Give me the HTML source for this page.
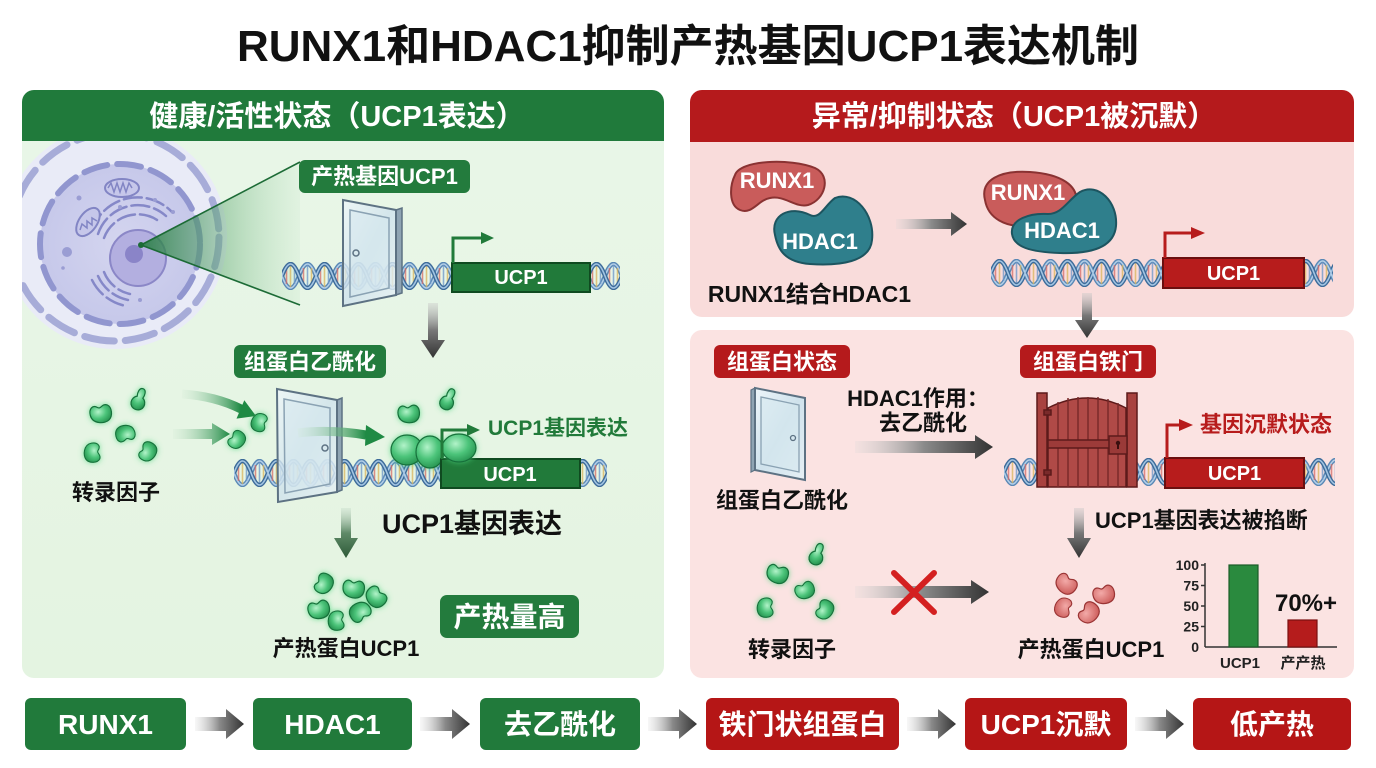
<!DOCTYPE html>
<html><head><meta charset="utf-8"><style>
html,body{margin:0;padding:0;background:#fff;}
svg{display:block;}
text{font-family:"Liberation Sans","Noto Sans CJK SC",sans-serif;font-weight:700;}
</style></head><body>
<svg width="1376" height="768" viewBox="0 0 1376 768" xmlns="http://www.w3.org/2000/svg" xmlns:xlink="http://www.w3.org/1999/xlink">
<defs>
  <linearGradient id="lbody" x1="0" y1="0" x2="0" y2="1">
    <stop offset="0" stop-color="#e9f6e8"/><stop offset="1" stop-color="#e4f4e1"/>
  </linearGradient>
  <pattern id="dna" width="34" height="28" patternUnits="userSpaceOnUse">
    <path d="M0,14 C6,30 11,30 17,14 S28,-2 34,14" fill="none" stroke="#5a88b5" stroke-width="4.5"/>
    <path d="M0,14 C6,30 11,30 17,14 S28,-2 34,14" fill="none" stroke="#b3cfe8" stroke-width="1.6"/>
    <g stroke-width="1.6" stroke-opacity="0.75">
      <line x1="4.5" y1="6" x2="4.5" y2="22" stroke="#d46a66"/>
      <line x1="8.5" y1="3" x2="8.5" y2="25" stroke="#d9b45a"/>
      <line x1="12.5" y1="6" x2="12.5" y2="22" stroke="#6b95c8"/>
      <line x1="21.5" y1="6" x2="21.5" y2="22" stroke="#d46a66"/>
      <line x1="25.5" y1="3" x2="25.5" y2="25" stroke="#6b95c8"/>
      <line x1="29.5" y1="6" x2="29.5" y2="22" stroke="#d9b45a"/>
    </g>
    <path d="M0,14 C6,-2 11,-2 17,14 S28,30 34,14" fill="none" stroke="#3d6b99" stroke-width="4.5"/>
    <path d="M0,14 C6,-2 11,-2 17,14 S28,30 34,14" fill="none" stroke="#a3c5e3" stroke-width="1.6"/>
  </pattern>
  <radialGradient id="gb" cx="0.4" cy="0.35" r="0.75">
    <stop offset="0" stop-color="#b2f3c9"/><stop offset="0.5" stop-color="#4cc47a"/><stop offset="1" stop-color="#1f8a48"/>
  </radialGradient>
  <radialGradient id="rb" cx="0.4" cy="0.35" r="0.75">
    <stop offset="0" stop-color="#f3aaa8"/><stop offset="1" stop-color="#c95654"/>
  </radialGradient>
  <filter id="glow" x="-60%" y="-60%" width="220%" height="220%">
    <feGaussianBlur in="SourceAlpha" stdDeviation="3" result="b"/>
    <feFlood flood-color="#48d67c" flood-opacity="0.75"/>
    <feComposite in2="b" operator="in"/>
    <feMerge><feMergeNode/><feMergeNode in="SourceGraphic"/></feMerge>
  </filter>
  <path id="bean" d="M-10,0 C-10,-7 -5,-10 -1,-6 C2,-3 4,-9 9,-6 C13,-3 12,6 7,9 C2,12 -10,9 -10,0Z"/>
  <path id="pear" d="M0,-12 C4,-12 4,-6 3,-3 C9,0 8,10 0,10 C-8,10 -9,0 -3,-3 C-4,-6 -4,-12 0,-12Z"/>
  <linearGradient id="ga" x1="0" y1="0" x2="1" y2="0">
    <stop offset="0" stop-color="#d6d6d6" stop-opacity="0.2"/><stop offset="0.5" stop-color="#8a8a8a"/><stop offset="1" stop-color="#333"/>
  </linearGradient>
  <linearGradient id="gav" x1="0" y1="0" x2="0" y2="1">
    <stop offset="0" stop-color="#c8c8c8" stop-opacity="0.4"/><stop offset="0.5" stop-color="#777"/><stop offset="1" stop-color="#333"/>
  </linearGradient>
  <linearGradient id="gavg" x1="0" y1="0" x2="0" y2="1">
    <stop offset="0" stop-color="#c8dccb" stop-opacity="0.4"/><stop offset="0.5" stop-color="#5f8a68"/><stop offset="1" stop-color="#2d5a37"/>
  </linearGradient>
  <linearGradient id="gg" x1="0" y1="0" x2="1" y2="0">
    <stop offset="0" stop-color="#cfe9d3" stop-opacity="0.2"/><stop offset="1" stop-color="#1f8a44"/>
  </linearGradient>
  <linearGradient id="cone" x1="0" y1="0" x2="1" y2="0">
    <stop offset="0" stop-color="#1f7a3a" stop-opacity="0.85"/><stop offset="1" stop-color="#9ed6a8" stop-opacity="0.1"/>
  </linearGradient>
  <radialGradient id="cellg" cx="0.5" cy="0.5" r="0.5">
    <stop offset="0" stop-color="#d4d5ef"/><stop offset="1" stop-color="#c6c8ea"/>
  </radialGradient>
  <linearGradient id="glass" x1="0" y1="0" x2="1" y2="1">
    <stop offset="0" stop-color="#eef6fa"/><stop offset="0.5" stop-color="#cfe2ec"/><stop offset="1" stop-color="#e6f0f5"/>
  </linearGradient>
  <clipPath id="lclip"><rect x="22" y="141" width="642" height="537" rx="12"/></clipPath>
</defs>

<!-- Title -->
<text x="688" y="61" font-size="44" text-anchor="middle" fill="#111">RUNX1和HDAC1抑制产热基因UCP1表达机制</text>

<!-- LEFT PANEL -->
<rect x="22" y="90" width="642" height="588" rx="12" fill="url(#lbody)"/>
<rect x="22" y="90" width="642" height="51" rx="12" fill="#207a3b"/>
<rect x="22" y="120" width="642" height="21" fill="#207a3b"/>
<text x="337" y="126" font-size="29" text-anchor="middle" fill="#fff">健康/活性状态（UCP1表达）</text>

<!-- cell -->
<g clip-path="url(#lclip)">
  <circle cx="115" cy="237" r="112" fill="#e9ebf7"/>
  <circle cx="115" cy="237" r="104" fill="none" stroke="#a7acd8" stroke-width="7" stroke-dasharray="30 11" stroke-linecap="round"/>
  <circle cx="120" cy="244" r="80" fill="url(#cellg)"/>
  <circle cx="120" cy="244" r="80" fill="none" stroke="#9196cf" stroke-width="6" stroke-dasharray="24 10" stroke-linecap="round"/>
  <g fill="none" stroke="#8588c8" stroke-width="2.5" stroke-linecap="round" stroke-dasharray="18 5">
    <path d="M104,238 A36,36 0 0 1 160,222"/>
    <path d="M98,234 A42,42 0 0 1 166,216"/>
    <path d="M92,230 A48,48 0 0 1 172,212"/>
    <path d="M104,272 A36,36 0 0 0 130,294"/>
    <path d="M98,276 A42,42 0 0 0 128,300"/>
    <path d="M92,280 A48,48 0 0 0 126,306"/>
  </g>
  <circle cx="138" cy="258" r="28" fill="#b3afe0" stroke="#8b87c7" stroke-width="2"/>
  <circle cx="134" cy="254" r="9" fill="#8a84c8"/>
  <g fill="#c6c7ea" stroke="#8285c4" stroke-width="2">
    <ellipse cx="122" cy="188" rx="17" ry="9"/>
    <ellipse cx="88" cy="222" rx="16" ry="9" transform="rotate(-55 88 222)"/>
  </g>
  <path d="M108,188 l3,-5 l3,9 l3,-9 l3,9 l3,-9 l3,9 l3,-9 l3,5" fill="none" stroke="#8285c4" stroke-width="1.5"/>
  <path d="M80,230 l2,-6 l5,4 l0,-7 l5,4 l0,-7 l5,3" fill="none" stroke="#8285c4" stroke-width="1.5"/>
  <g fill="#9a9dd3">
    <circle cx="79" cy="198" r="2.5"/><circle cx="120" cy="207" r="2"/><circle cx="155" cy="200" r="2"/>
    <circle cx="173" cy="212" r="2"/><circle cx="67" cy="252" r="5"/><circle cx="63" cy="268" r="1.8"/><circle cx="140" cy="300" r="2"/>
  </g>
  <!-- cone -->
  <polygon points="141,245 300,162 300,305" fill="url(#cone)"/>
  <line x1="141" y1="245" x2="300" y2="162" stroke="#1c6b36" stroke-width="1.6"/>
  <line x1="141" y1="245" x2="300" y2="305" stroke="#1c6b36" stroke-width="1.6"/>
  <circle cx="141" cy="245" r="3" fill="#1c6b36"/>
</g>

<!-- label: 产热基因UCP1 -->
<rect x="299" y="160" width="171" height="33" rx="6" fill="#237b3d"/>
<text x="384.5" y="184" font-size="22" text-anchor="middle" fill="#fff">产热基因UCP1</text>

<!-- DNA 1 -->
<g transform="translate(282,262)"><rect width="338" height="28" fill="url(#dna)"/></g>
<!-- door 1 -->
<polygon points="396,210 402,208 402,293 396,295" fill="#8fa4b3" stroke="#5d7283" stroke-width="1.5"/>
<polygon points="343,200 396,210 396,295 343,306" fill="url(#glass)" fill-opacity="0.8" stroke="#5d7283" stroke-width="2"/>
<polygon points="350,210 389,218 389,288 350,297" fill="#d6e7ef" fill-opacity="0.55" stroke="#8aa2b3" stroke-width="1.5"/>
<circle cx="356" cy="253" r="3" fill="none" stroke="#5d7283" stroke-width="1.5"/>
<!-- UCP1 box 1 -->
<rect x="452" y="263" width="138" height="29" fill="#217a3a" stroke="#0f4a20" stroke-width="2"/>
<text x="521" y="284" font-size="20" text-anchor="middle" fill="#fff">UCP1</text>
<path d="M453,263 V238 H482" fill="none" stroke="#217a3a" stroke-width="3"/>
<polygon points="481,232 494,238 481,244" fill="#217a3a"/>
<!-- down arrow -->
<polygon points="428,303 438,303 438,340 445,340 433,358 421,340 428,340" fill="url(#gav)"/>

<!-- label: 组蛋白乙酰化 -->
<rect x="234" y="345" width="152" height="33" rx="6" fill="#237b3d"/>
<text x="310" y="369.5" font-size="22" text-anchor="middle" fill="#fff">组蛋白乙酰化</text>

<!-- TFs left -->
<g fill="url(#gb)" stroke="#17703a" stroke-width="1.2" filter="url(#glow)">
  <use xlink:href="#bean" transform="translate(100,413) rotate(-15)"/>
  <use xlink:href="#pear" transform="translate(139,400) rotate(20)"/>
  <use xlink:href="#bean" transform="translate(126,434) rotate(160) scale(0.9)"/>
  <use xlink:href="#bean" transform="translate(93,452) rotate(80) scale(0.9)"/>
  <use xlink:href="#bean" transform="translate(147,452) rotate(-70) scale(0.9)"/>
  <use xlink:href="#bean" transform="translate(260,422) rotate(100) scale(0.85)"/>
  <use xlink:href="#bean" transform="translate(236,440) rotate(-60) scale(0.85)"/>
</g>
<text x="116" y="500" font-size="22" text-anchor="middle" fill="#111">转录因子</text>
<!-- green arrows -->
<path d="M182,394 Q215,396 241,409" fill="none" stroke="url(#gg)" stroke-width="9"/>
<polygon points="256,416 236.5,418.6 244.3,400.2" fill="#1f8a44"/>
<polygon points="173,429 212,429 212,423 230,434 212,445 212,439 173,439" fill="url(#gg)"/>

<!-- DNA 2 -->
<g transform="translate(234,459)"><rect width="373" height="28" fill="url(#dna)"/></g>
<!-- door 2 -->
<polygon points="337,400 342,398 342,490 337,492" fill="#8fa4b3" stroke="#5d7283" stroke-width="1.5"/>
<polygon points="277,389 337,400 337,492 278,502" fill="url(#glass)" fill-opacity="0.8" stroke="#5d7283" stroke-width="2"/>
<polygon points="284,399 330,408 330,484 285,493" fill="#d6e7ef" fill-opacity="0.55" stroke="#8aa2b3" stroke-width="1.5"/>
<circle cx="325" cy="448" r="3" fill="none" stroke="#5d7283" stroke-width="1.5"/>
<!-- through-door arrow -->
<path d="M298,433 Q330,429 366,435" fill="none" stroke="url(#gg)" stroke-width="9"/>
<polygon points="385,437 365,446 366,425" fill="#1f8a44"/>
<!-- green cluster on DNA -->
<g fill="url(#gb)" stroke="#17703a" stroke-width="1.2" filter="url(#glow)">
  <use xlink:href="#bean" transform="translate(408,413) rotate(-10)"/>
  <use xlink:href="#pear" transform="translate(448,400) rotate(25)"/>
  <ellipse cx="407" cy="450" rx="16" ry="15"/>
  <ellipse cx="430" cy="452" rx="14" ry="16"/>
</g>
<!-- UCP1 box 2 -->
<rect x="441" y="459" width="139" height="29" fill="#217a3a" stroke="#0f4a20" stroke-width="2"/>
<g fill="url(#gb)" stroke="#17703a" stroke-width="1.2" filter="url(#glow)">
  <ellipse cx="459" cy="448" rx="17" ry="14"/>
</g>
<text x="510" y="481" font-size="20" text-anchor="middle" fill="#fff">UCP1</text>
<path d="M442,459 V430 H468" fill="none" stroke="#217a3a" stroke-width="3"/>
<polygon points="467,424 480,430 467,436" fill="#217a3a"/>
<text x="488" y="435" font-size="21" fill="#217a3a">UCP1基因表达</text>

<text x="382" y="533" font-size="27" fill="#111">UCP1基因表达</text>
<polygon points="341,508 351,508 351,538 358,538 346,558 334,538 341,538" fill="url(#gavg)"/>

<!-- protein cluster -->
<g fill="url(#gb)" stroke="#17703a" stroke-width="1.2" filter="url(#glow)">
  <use xlink:href="#bean" transform="translate(323,584) rotate(-70) scale(0.95)"/>
  <use xlink:href="#bean" transform="translate(353,588) rotate(0)"/>
  <use xlink:href="#bean" transform="translate(376,596) rotate(40)"/>
  <use xlink:href="#bean" transform="translate(318,609) rotate(-20)"/>
  <use xlink:href="#bean" transform="translate(361,612) rotate(140)"/>
  <use xlink:href="#bean" transform="translate(337,620) rotate(80) scale(0.9)"/>
</g>
<text x="346" y="656" font-size="22" text-anchor="middle" fill="#111">产热蛋白UCP1</text>
<rect x="440" y="595" width="139" height="43" rx="7" fill="#237b3d"/>
<text x="509.5" y="626.5" font-size="28" text-anchor="middle" fill="#fff">产热量高</text>

<!-- RIGHT PANEL -->
<rect x="690" y="90" width="664" height="227" rx="12" fill="#f9dcdb"/>
<rect x="690" y="90" width="664" height="52" rx="12" fill="#b51a1c"/>
<rect x="690" y="120" width="664" height="22" fill="#b51a1c"/>
<text x="1014" y="126" font-size="29" text-anchor="middle" fill="#fff">异常/抑制状态（UCP1被沉默）</text>
<rect x="690" y="330" width="664" height="348" rx="12" fill="#fbe3e2"/>

<!-- RUNX1 & HDAC1 separate -->
<path d="M735,175 C740,160 790,158 815,168 C832,176 825,200 808,205 C795,208 785,195 770,198 C758,200 752,215 740,210 C728,205 730,185 735,175Z" fill="#c95c5b" stroke="#8a3232" stroke-width="2"/>
<text x="777" y="188" font-size="22" text-anchor="middle" fill="#fff">RUNX1</text>
<path d="M775,235 C770,215 790,205 810,215 C820,220 825,205 835,198 C855,190 875,215 872,240 C870,262 840,266 810,264 C785,262 778,250 775,235Z" fill="#2f7f8c" stroke="#1d5560" stroke-width="2"/>
<text x="820" y="249" font-size="22" text-anchor="middle" fill="#fff">HDAC1</text>
<text x="809.5" y="302" font-size="23" text-anchor="middle" fill="#111">RUNX1结合HDAC1</text>
<polygon points="896,219 951,219 951,212 967,224 951,236 951,229 896,229" fill="url(#ga)"/>

<!-- complex -->
<path d="M985,200 C980,180 1000,170 1030,172 C1060,174 1080,185 1076,205 C1072,222 1050,225 1030,226 C1005,228 988,218 985,200Z" fill="#c95c5b" stroke="#8a3232" stroke-width="2"/>
<path d="M1012,234 C1010,219 1030,213 1048,214 C1062,214 1068,200 1080,192 C1098,182 1118,202 1116,226 C1114,248 1090,254 1060,253 C1030,252 1014,247 1012,234Z" fill="#2f7f8c" stroke="#1d5560" stroke-width="2"/>
<text x="1028" y="200" font-size="22" text-anchor="middle" fill="#fff">RUNX1</text>
<text x="1062" y="238" font-size="22" text-anchor="middle" fill="#fff">HDAC1</text>

<g transform="translate(991,259)"><rect width="342" height="28" fill="url(#dna)"/></g>
<rect x="1163" y="258" width="141" height="30" fill="#b71c1c" stroke="#6b0f0f" stroke-width="2"/>
<text x="1233.5" y="280" font-size="20" text-anchor="middle" fill="#fff">UCP1</text>
<path d="M1165,258 V233 H1192" fill="none" stroke="#b71c1c" stroke-width="3"/>
<polygon points="1191,227 1205,233 1191,239" fill="#b71c1c"/>
<polygon points="1082,293 1092,293 1092,320 1099,320 1087,338 1075,320 1082,320" fill="url(#gav)"/>

<!-- lower right -->
<rect x="714" y="345" width="136" height="33" rx="6" fill="#b51a1c"/>
<text x="782" y="369.5" font-size="22" text-anchor="middle" fill="#fff">组蛋白状态</text>
<rect x="1020" y="345" width="136" height="33" rx="6" fill="#b51a1c"/>
<text x="1088" y="369.5" font-size="22" text-anchor="middle" fill="#fff">组蛋白铁门</text>

<!-- small door -->
<polygon points="751,390 755,388 755,470 751,472" fill="#8fa4b3" stroke="#5d7283" stroke-width="1.2"/>
<polygon points="755,388 805,398 805,480 755,470" fill="url(#glass)" stroke="#5d7283" stroke-width="2"/>
<polygon points="761,397 799,405 799,472 761,464" fill="#d6e7ef" fill-opacity="0.6" stroke="#8aa2b3" stroke-width="1.3"/>
<circle cx="793" cy="438" r="2.5" fill="none" stroke="#5d7283" stroke-width="1.3"/>
<text x="782" y="508" font-size="22" text-anchor="middle" fill="#111">组蛋白乙酰化</text>

<text x="918" y="406" font-size="22" text-anchor="middle" fill="#111">HDAC1作用：</text>
<text x="923" y="430.5" font-size="22" text-anchor="middle" fill="#111">去乙酰化</text>
<polygon points="855,441 975,441 975,435 993,447 975,459 975,453 855,453" fill="url(#ga)"/>

<!-- DNA lower right + gate -->
<g transform="translate(1004,458)"><rect width="331" height="28" fill="url(#dna)"/></g>
<g stroke="#5c1a1a" stroke-width="1.5">
  <rect x="1037" y="393" width="10" height="94" fill="#a8423f"/>
  <rect x="1127" y="393" width="10" height="94" fill="#a8423f"/>
  <path d="M1048,487 V408 Q1087,388 1126,408 V487 Z" fill="#b04a47"/>
  <g stroke="#7a2a2a">
    <line x1="1058" y1="402" x2="1058" y2="487"/><line x1="1068" y1="398" x2="1068" y2="487"/>
    <line x1="1078" y1="397" x2="1078" y2="487"/><line x1="1088" y1="397" x2="1088" y2="487"/>
    <line x1="1098" y1="397" x2="1098" y2="487"/><line x1="1108" y1="399" x2="1108" y2="487"/>
    <line x1="1118" y1="403" x2="1118" y2="487"/>
  </g>
  <rect x="1048" y="440" width="78" height="8" fill="#9c3b39"/>
  <rect x="1109" y="436" width="18" height="18" fill="#9a3a38"/>
  <rect x="1044" y="410" width="7" height="5" fill="#7a2a2a"/>
  <rect x="1044" y="470" width="7" height="5" fill="#7a2a2a"/>
</g>
<circle cx="1118" cy="443" r="2.2" fill="#3a0f0f"/>
<rect x="1117" y="444" width="2" height="5" fill="#3a0f0f"/>

<rect x="1165" y="458" width="139" height="30" fill="#b71c1c" stroke="#6b0f0f" stroke-width="2"/>
<text x="1234.5" y="480" font-size="20" text-anchor="middle" fill="#fff">UCP1</text>
<path d="M1167,458 V425 H1180" fill="none" stroke="#b71c1c" stroke-width="3"/>
<polygon points="1179,419 1193,425 1179,431" fill="#b71c1c"/>
<text x="1200" y="432" font-size="22" fill="#b71c1c">基因沉默状态</text>

<polygon points="1074,508 1084,508 1084,538 1091,538 1079,558 1067,538 1074,538" fill="url(#gav)"/>
<text x="1095" y="528" font-size="22" fill="#111">UCP1基因表达被掐断</text>

<!-- green TFs right -->
<g fill="url(#gb)" stroke="#17703a" stroke-width="1.2" filter="url(#glow)">
  <use xlink:href="#bean" transform="translate(777,573) rotate(10)"/>
  <use xlink:href="#pear" transform="translate(817,555) rotate(20)"/>
  <use xlink:href="#bean" transform="translate(804,590) rotate(-30) scale(0.9)"/>
  <use xlink:href="#bean" transform="translate(766,607) rotate(80) scale(0.9)"/>
  <use xlink:href="#bean" transform="translate(824,610) rotate(-70) scale(0.9)"/>
</g>
<text x="792" y="657" font-size="22" text-anchor="middle" fill="#111">转录因子</text>
<polygon points="855,586 971,586 971,580 989,592 971,604 971,598 855,598" fill="url(#ga)"/>
<g stroke="#d42020" stroke-width="6" stroke-linecap="round">
  <line x1="894" y1="573" x2="934" y2="612"/><line x1="934" y1="573" x2="894" y2="612"/>
</g>

<!-- red beans -->
<g fill="url(#rb)" stroke="#9a3434" stroke-width="1.2">
  <use xlink:href="#bean" transform="translate(1066,583) rotate(30)"/>
  <use xlink:href="#bean" transform="translate(1103,594) rotate(-20)"/>
  <use xlink:href="#bean" transform="translate(1064,607) rotate(100) scale(0.9)"/>
  <use xlink:href="#bean" transform="translate(1088,613) rotate(-60)"/>
</g>
<text x="1091" y="657" font-size="22" text-anchor="middle" fill="#111">产热蛋白UCP1</text>

<!-- chart -->
<g stroke="#333" stroke-width="1.5">
  <line x1="1205" y1="563" x2="1205" y2="647"/>
  <line x1="1205" y1="647" x2="1337" y2="647"/>
  <line x1="1201" y1="565" x2="1205" y2="565"/>
  <line x1="1201" y1="585.5" x2="1205" y2="585.5"/>
  <line x1="1201" y1="606" x2="1205" y2="606"/>
  <line x1="1201" y1="626.5" x2="1205" y2="626.5"/>
</g>
<g font-size="14" text-anchor="end" fill="#222">
  <text x="1199" y="570">100</text><text x="1199" y="590.5">75</text><text x="1199" y="611">50</text>
  <text x="1199" y="631.5">25</text><text x="1199" y="652">0</text>
</g>
<rect x="1229" y="565" width="29" height="82" fill="#2a8a3e" stroke="#1a5c28" stroke-width="1.2"/>
<rect x="1288" y="620" width="29" height="27" fill="#b51c1c" stroke="#7a1010" stroke-width="1.2"/>
<text x="1306" y="611" font-size="24" text-anchor="middle" fill="#111">70%+</text>
<text x="1240" y="668" font-size="15" text-anchor="middle" fill="#222">UCP1</text>
<text x="1303" y="668" font-size="15" text-anchor="middle" fill="#222">产产热</text>

<!-- BOTTOM BAR -->
<g>
  <rect x="25" y="698" width="161" height="52" rx="6" fill="#217a3b"/>
  <rect x="253" y="698" width="159" height="52" rx="6" fill="#217a3b"/>
  <rect x="480" y="698" width="160" height="52" rx="6" fill="#217a3b"/>
  <rect x="706" y="698" width="193" height="52" rx="6" fill="#b51616"/>
  <rect x="965" y="698" width="162" height="52" rx="6" fill="#b51616"/>
  <rect x="1193" y="698" width="158" height="52" rx="6" fill="#b51616"/>
</g>
<g font-size="28" text-anchor="middle" fill="#fff">
  <text x="105.5" y="734">RUNX1</text>
  <text x="332.5" y="734">HDAC1</text>
  <text x="560" y="734">去乙酰化</text>
  <text x="802.5" y="734">铁门状组蛋白</text>
  <text x="1046" y="734">UCP1沉默</text>
  <text x="1272" y="734">低产热</text>
</g>
<g fill="url(#ga)">
  <polygon points="195,717 226,717 226,709 244,724 226,739 226,731 195,731"/>
  <polygon points="420,717 452,717 452,709 470,724 452,739 452,731 420,731"/>
  <polygon points="648,717 679,717 679,709 697,724 679,739 679,731 648,731"/>
  <polygon points="907,717 938,717 938,709 956,724 938,739 938,731 907,731"/>
  <polygon points="1135,717 1166,717 1166,709 1184,724 1166,739 1166,731 1135,731"/>
</g>
</svg>
</body></html>
